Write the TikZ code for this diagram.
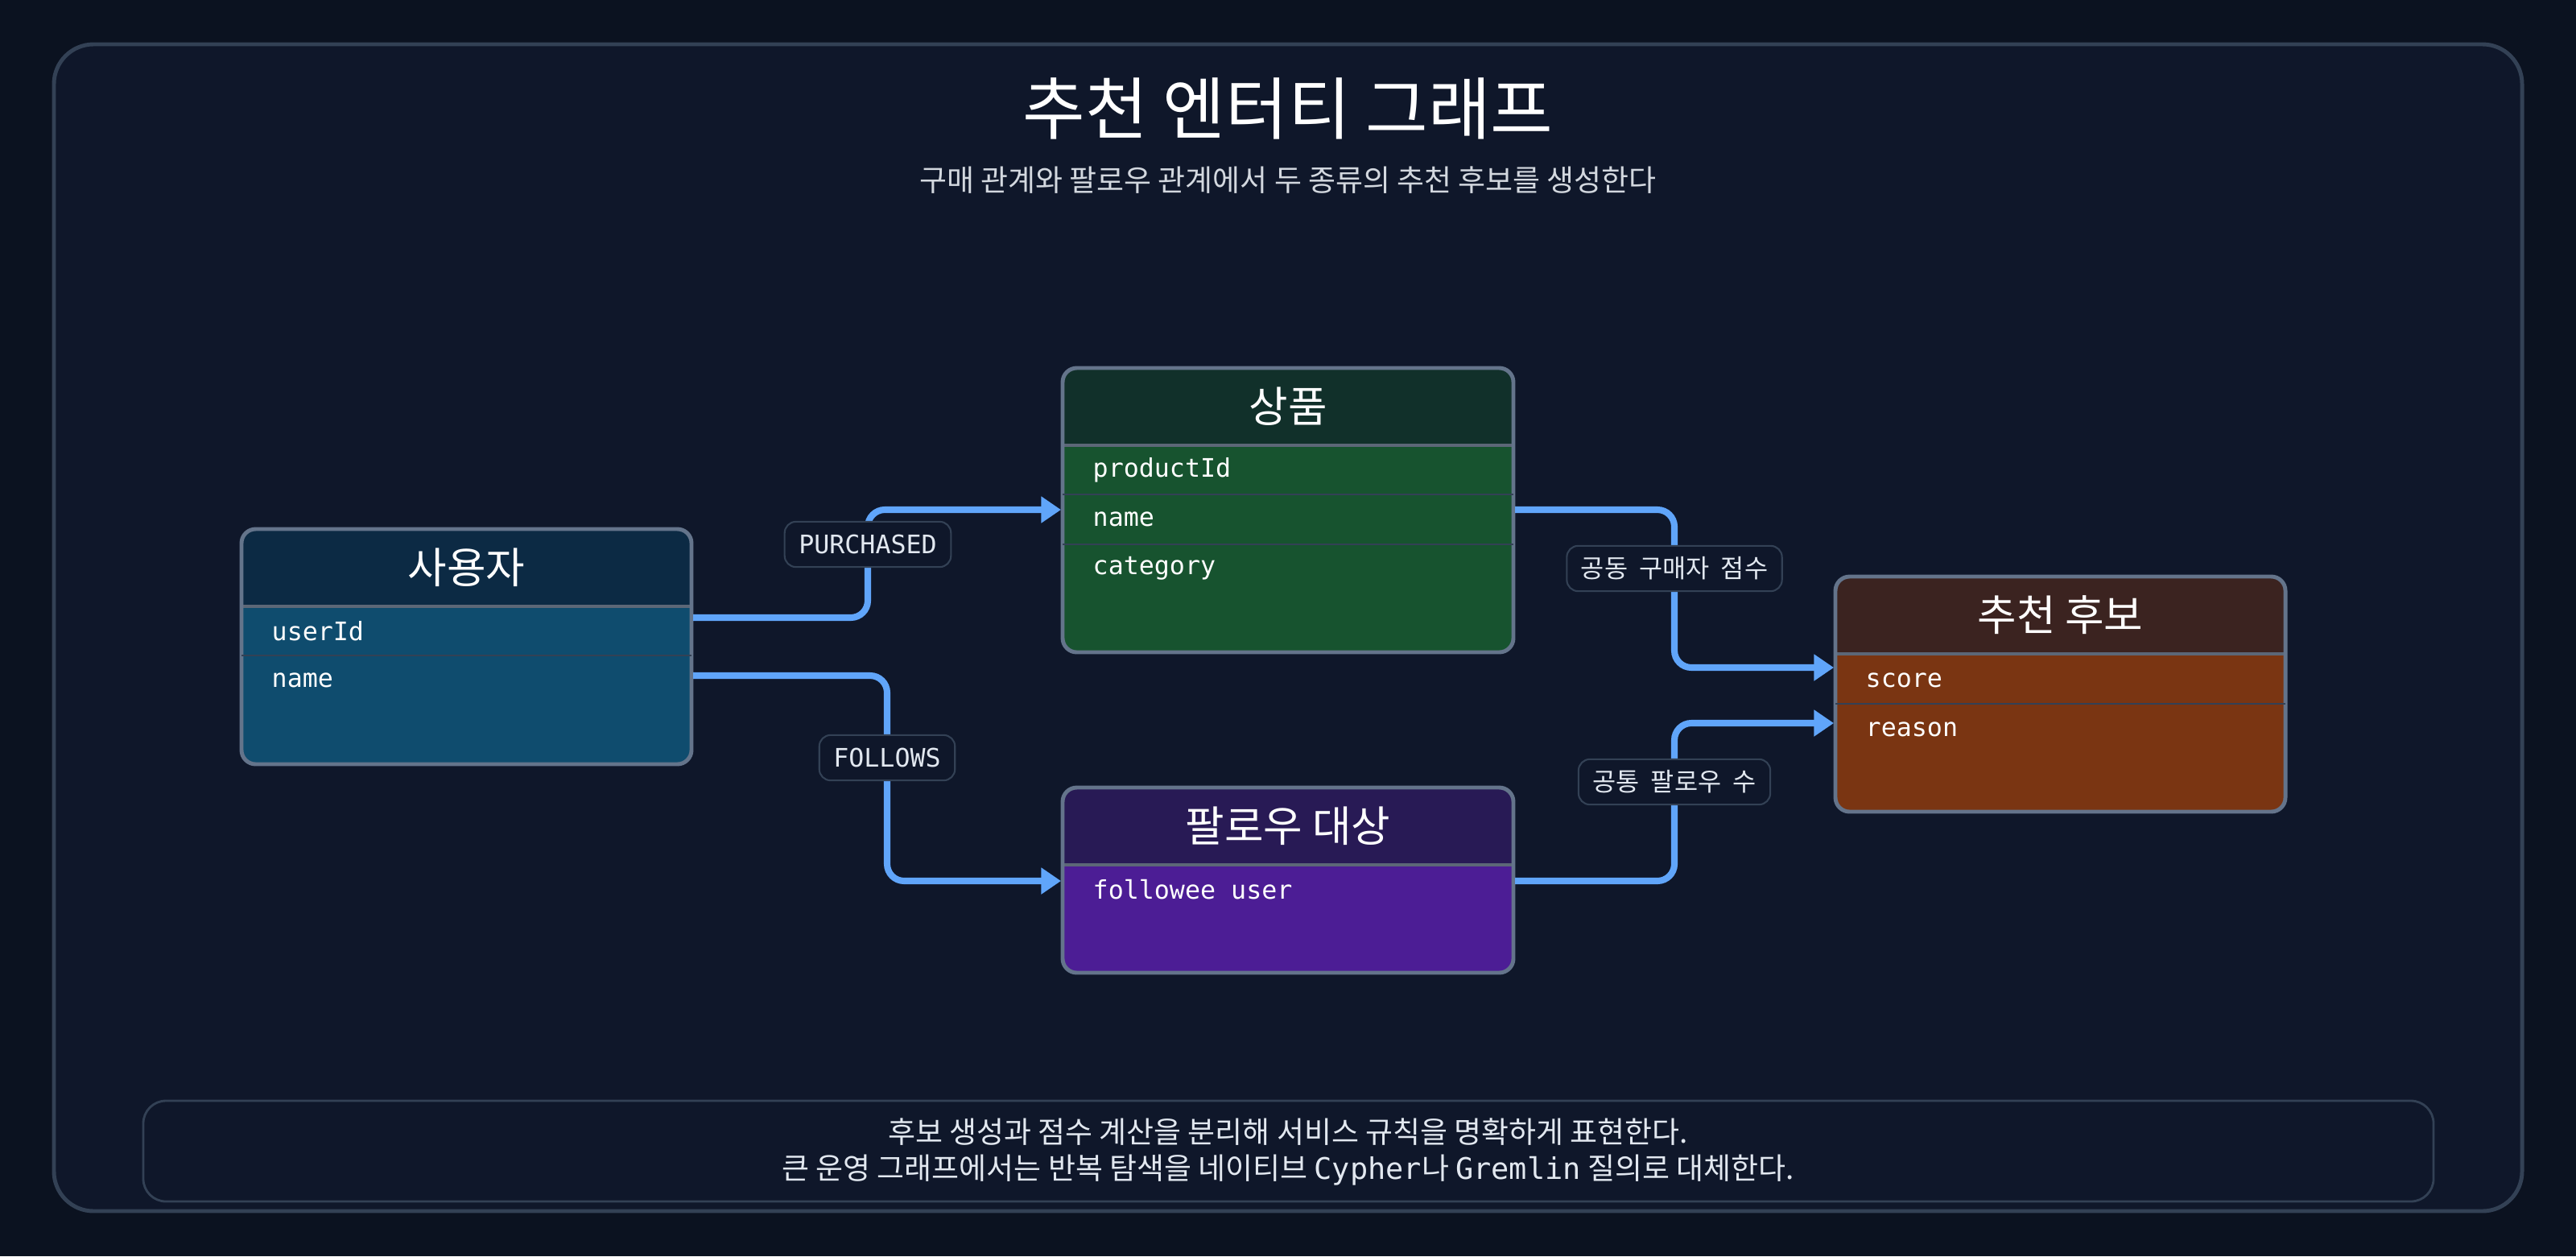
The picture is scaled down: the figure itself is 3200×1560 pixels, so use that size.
\documentclass[tikz,border=0pt]{standalone}
\usepackage{fontspec}
\setmainfont{Noto Sans CJK KR}
\newfontfamily\cjk{Noto Sans CJK KR}
\newfontfamily\mono{DejaVu Sans Mono}
\usetikzlibrary{arrows.meta,fit}
\definecolor{bgout}{HTML}{0B1220}
\definecolor{bgin}{HTML}{0F172A}
\definecolor{frame}{HTML}{334155}
\definecolor{boxb}{HTML}{64748B}
\definecolor{edgec}{HTML}{60A5FA}
\definecolor{txt}{HTML}{E2E8F0}
\definecolor{uh}{HTML}{0C2A44}\definecolor{ub}{HTML}{0F4C6E}
\definecolor{ph}{HTML}{11302A}\definecolor{pb}{HTML}{17532F}
\definecolor{fh}{HTML}{281A55}\definecolor{fb}{HTML}{4C1D95}
\definecolor{ch}{HTML}{3B2320}\definecolor{cb}{HTML}{7A3512}
\tikzset{
 edge/.style={draw=edgec,line width=2.3pt,rounded corners=6pt,-{Triangle[length=7pt,width=9pt]}},
 lbl/.style={fill=bgin,draw=frame,line width=0.6pt,rounded corners=4pt,text=txt,font=\cjk\fontsize{9}{10}\selectfont,inner xsep=5pt,minimum height=16pt},
 row/.style={anchor=west,text=white,font=\mono\fontsize{9}{10}\selectfont,inner sep=0},
 head/.style={text=white,font=\cjk\fontsize{15}{16}\selectfont,inner sep=0},
}
% #1 name, #2 x1, #3 y1, #4 x2, #5 y2, #6 header bottom, #7 head col, #8 body col, #9 title
\newcommand\erbox[9]{%
 \fill[#8,rounded corners=5pt] (#2,#3) rectangle (#4,#5);
 \fill[#7,rounded corners=5pt] (#2,#3) -- (#4,#3) -- (#4,#6) -- (#2,#6) -- cycle;
 \fill[#7] (#2,#6-20) rectangle (#4,#6);
 \draw[frame!80!white,line width=1.2pt] (#2,#6) -- (#4,#6);
 \node[draw=boxb,line width=1.4pt,rounded corners=5pt,inner sep=0,fit={(#2,#3)(#4,#5)}] (#1) {};
 \node[head] (#1t) at ({(#2+#4)/2},{(#3+#6)/2}) {#9};
}
\begin{document}
\begin{tikzpicture}[x=0.01cm,y=-0.01cm]
\fill[bgout] (0,0) rectangle (3200,1560);
\useasboundingbox (0,0) rectangle (3200,1560);
\node[draw=frame,fill=bgin,line width=1.4pt,rounded corners=14pt,inner sep=0,fit={(67,55)(3133,1504)}] (frm) {};
\node[text=white,font=\cjk\fontsize{24}{26}\selectfont] (title) at (1600,135) {추천 엔터티 그래프};
\node[text=txt!85!gray,font=\cjk\fontsize{10.5}{12}\selectfont] (sub) at (1600,224) {구매 관계와 팔로우 관계에서 두 종류의 추천 후보를 생성한다};

\erbox{user}{300}{657}{859}{949}{753}{uh}{ub}{사용자}
\draw[frame,line width=0.8pt] (300,814) -- (859,814);
\node[row] (u1) at (337,784) {userId};
\node[row] (u2) at (337,845) {name};

\erbox{prod}{1320}{457}{1880}{810}{553}{ph}{pb}{상품}
\draw[frame,line width=0.8pt] (1320,614) -- (1880,614) (1320,676) -- (1880,676);
\node[row] (p1) at (1357,584) {productId};
\node[row] (p2) at (1357,645) {name};
\node[row] (p3) at (1357,706) {category};

\erbox{fol}{1320}{978}{1880}{1208}{1074}{fh}{fb}{팔로우 대상}
\node[row] (f1) at (1357,1105) {followee user};

\erbox{cand}{2280}{716}{2839}{1008}{812}{ch}{cb}{추천 후보}
\draw[frame,line width=0.8pt] (2280,874) -- (2839,874);
\node[row] (c1) at (2317,845) {score};
\node[row] (c2) at (2317,906) {reason};

\coordinate (uA) at (861,767);
\coordinate (uB) at (861,839);
\coordinate (pIn) at (1318,633);
\coordinate (pOut) at (1882,633);
\coordinate (fIn) at (1318,1094);
\coordinate (fOut) at (1882,1094);
\coordinate (cA) at (2278,829);
\coordinate (cB) at (2278,898);
\coordinate (jP) at (1078,700);
\coordinate (jF) at (1102,941);
\coordinate (jC) at (2080,706);
\coordinate (jD) at (2080,971);

\draw[edge] (uA) -| (jP |- pIn) -- (pIn);
\draw[edge] (uB) -| (jF |- fIn) -- (fIn);
\draw[edge] (pOut) -| (jC |- cA) -- (cA);
\draw[edge] (fOut) -| (jD |- cB) -- (cB);

\node[lbl,font=\mono\fontsize{9}{10}\selectfont] (lP) at (1078,676) {PURCHASED};
\node[lbl,font=\mono\fontsize{9}{10}\selectfont] (lF) at (1102,941) {FOLLOWS};
\node[lbl] (lC) at (2080,706) {공동\ \ 구매자\ \ 점수};
\node[lbl] (lD) at (2080,971) {공통\ \ 팔로우\ \ 수};

\node[draw=frame,fill=bgin,line width=0.8pt,rounded corners=8pt,inner sep=0,fit={(178,1367)(3023,1492)}] (foot) {};
\node[text=txt,font=\cjk\fontsize{10.5}{12}\selectfont] (fl1) at (1600,1406) {후보 생성과 점수 계산을 분리해 서비스 규칙을 명확하게 표현한다.};
\node[text=txt,font=\cjk\fontsize{10.5}{12}\selectfont] (fl2) at (1600,1453) {큰 운영 그래프에서는 반복 탐색을 네이티브 {\mono Cypher}나 {\mono Gremlin} 질의로 대체한다.};
\end{tikzpicture}
\end{document}
